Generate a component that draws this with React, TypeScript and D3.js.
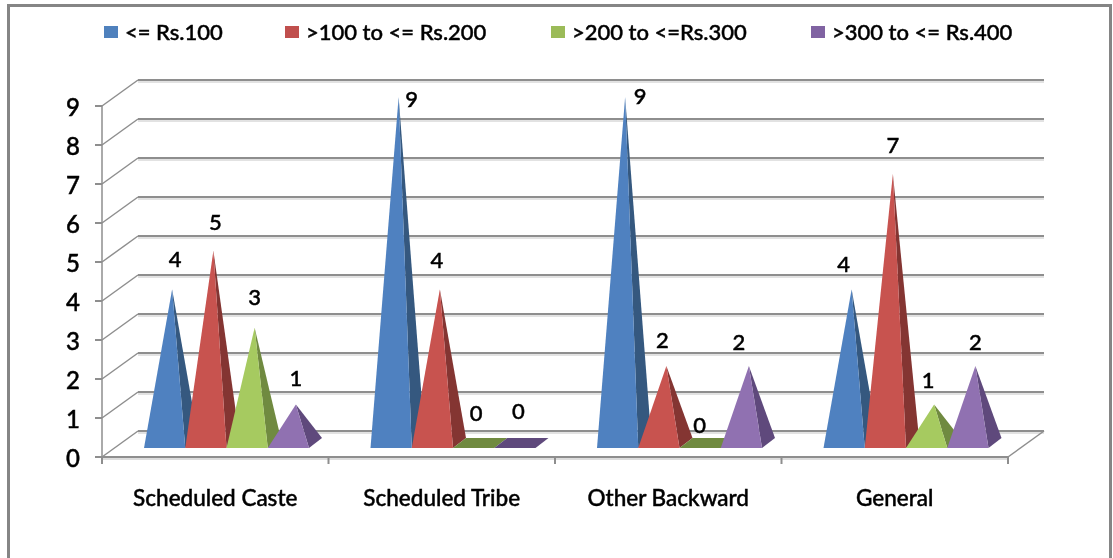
import React from "react";
import * as d3 from "d3";

const categories = ["Scheduled Caste", "Scheduled Tribe", "Other Backward", "General"];
const seriesNames = ["<= Rs.100", ">100 to <= Rs.200", ">200 to <=Rs.300", ">300 to <= Rs.400"];
const bandA = [4, 9, 9, 4];
const bandB = [5, 4, 2, 7];
const bandC = [3, 0, 0, 1];
const bandD = [1, 0, 2, 2];
const seriesValues = [bandA, bandB, bandC, bandD];
const yTicks = d3.range(0, 10);

const legendColors = ["#4f81bd", "#c0504d", "#9bbb59", "#8064a2"];
const frontColors = ["#4f81c0", "#c85250", "#a6ca60", "#9071b1"];
const sideColors = ["#34587f", "#843533", "#6f8a3f", "#5e4a7c"];
const legendSwatchX = [104, 285, 551, 811];
const legendTextX = [125, 306, 572, 832];
// label nudges [dx, dy] from the apex of each pyramid, per series then category
const labelNudge = [
  [[3, -31], [13, 1], [15, -2], [-8, -26]],
  [[2, -29], [-3, -30], [-4, -27], [0, -29]],
  [[0, -31], [-5, -31], [-8, -19], [-6, -25]],
  [[0, -27], [-4, -33], [-10, -25], [0, -25]],
];

const W = 1113, H = 558;
const axisLeft = 102, axisRight = 1008, axisBase = 457, axisTop = 107;
const depthX = 36, depthY = 26;
const groupInset = 42, groupWidth = 165;
const baseY = 448, baseDepthX = 13, baseDepthY = 10, apexZero = 443, apexTop = 97, apexShift = 7.5;
const grid = "#8e8e8e";

const x0 = d3.scaleBand<string>().domain(categories).range([axisLeft, axisRight]);
const x1 = d3.scaleBand<string>().domain(seriesNames).range([0, groupWidth]);
const y = d3.scaleLinear().domain([0, 9]).range([axisBase, axisTop - 1]);
const apexY = d3.scaleLinear().domain([0, 9]).range([apexZero, apexTop]);
const poly = d3.line();

export default function App() {
  const font = "Lato, Carlito, sans-serif";
  const ticks = [...categories.map((c) => x0(c) as number), axisRight];
  const heavy = { stroke: "#000", strokeWidth: 0.45 };
  return (
    <svg width={W} height={H} style={{ position: "absolute", left: 0, top: 0, background: "#fff" }}>
      <defs>
        <filter id="soft" x="-2%" y="-2%" width="104%" height="104%">
          <feGaussianBlur stdDeviation="0.4" />
        </filter>
      </defs>
      <g filter="url(#soft)">
        <path d={`M8.5,${H}V5.5H1110.5V${H}`} fill="none" stroke="#858585" strokeWidth={3} />
        {yTicks.map((t) => (
          <g key={t}>
            <line x1={axisLeft + depthX} x2={axisRight + depthX} y1={y(t) - depthY + 2} y2={y(t) - depthY + 2} stroke="#e2e2e2" strokeWidth={2} />
            <line x1={axisLeft + depthX} x2={axisRight + depthX} y1={y(t) - depthY} y2={y(t) - depthY} stroke={grid} strokeWidth={2} />
            <line x1={axisLeft} x2={axisLeft + depthX} y1={y(t)} y2={y(t) - depthY} stroke={grid} strokeWidth={1.5} />
            <line x1={95} x2={axisLeft} y1={y(t)} y2={y(t)} stroke={grid} strokeWidth={2} />
            <text x={73} y={y(t)} fontFamily={font} fontSize={24} fontWeight={500} textAnchor="middle" dominantBaseline="central" fill="#000" {...heavy}>{t}</text>
          </g>
        ))}
        <line x1={axisLeft} x2={axisLeft} y1={y(9)} y2={axisBase} stroke={grid} strokeWidth={1.5} />
        <line x1={axisRight} x2={axisRight + depthX} y1={axisBase} y2={axisBase - depthY} stroke={grid} strokeWidth={1.5} />
        <line x1={axisLeft} x2={axisRight} y1={axisBase + 2} y2={axisBase + 2} stroke="#dddddd" strokeWidth={2} />
        <line x1={axisLeft} x2={axisRight} y1={axisBase} y2={axisBase} stroke={grid} strokeWidth={2} />
        {ticks.map((t) => (
          <line key={t} x1={t} x2={t} y1={axisBase} y2={464} stroke={grid} strokeWidth={2} />
        ))}
        {categories.map((c, ci) => (
          <g key={c}>
            {seriesNames.map((s, si) => {
              const v = seriesValues[si][ci];
              const a = (x0(c) as number) + groupInset + (x1(s) as number);
              const b = a + x1.bandwidth();
              const cx = (a + b) / 2 + apexShift;
              if (v === 0) {
                return (
                  <path key={s} fill={sideColors[si]} d={poly([[a, baseY], [b, baseY], [b + baseDepthX, baseY - baseDepthY], [a + baseDepthX, baseY - baseDepthY]]) + "Z"} />
                );
              }
              const top = apexY(v);
              return (
                <g key={s}>
                  <path fill={sideColors[si]} d={poly([[cx, top], [b, baseY], [b + baseDepthX, baseY - baseDepthY]]) + "Z"} />
                  <path fill={frontColors[si]} d={poly([[cx, top], [a, baseY], [b, baseY]]) + "Z"} />
                </g>
              );
            })}
          </g>
        ))}
        {categories.map((c, ci) =>
          seriesNames.map((s, si) => {
            const v = seriesValues[si][ci];
            const cx = (x0(c) as number) + groupInset + (x1(s) as number) + x1.bandwidth() / 2 + apexShift;
            const [dx, dy] = labelNudge[si][ci];
            return (
              <text key={c + s} x={cx + dx} y={apexY(v) + dy} fontFamily={font} fontSize={22} fontWeight={500} textAnchor="middle" dominantBaseline="central" fill="#000" {...heavy}>{v}</text>
            );
          })
        )}
        {categories.map((c) => (
          <text key={c} x={(x0(c) as number) + x0.bandwidth() / 2} y={497} fontFamily={font} fontSize={22.5} fontWeight={500} textAnchor="middle" dominantBaseline="central" fill="#000" {...heavy}>{c}</text>
        ))}
        {seriesNames.map((s, i) => (
          <g key={s}>
            <rect x={legendSwatchX[i]} y={26} width={14} height={12} fill={legendColors[i]} />
            <text x={legendTextX[i]} y={31} fontFamily={font} fontSize={22} fontWeight={500} dominantBaseline="central" fill="#000" {...heavy}>{s}</text>
          </g>
        ))}
      </g>
    </svg>
  );
}
